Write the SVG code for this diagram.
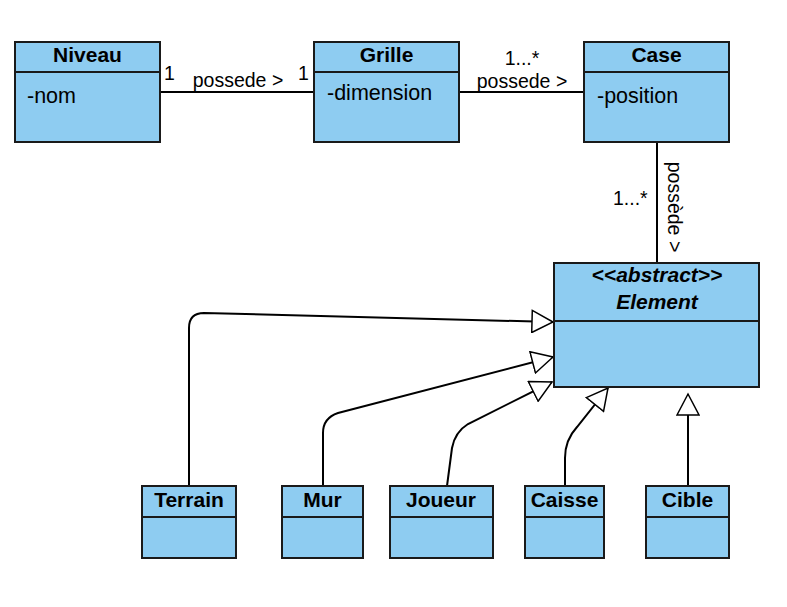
<svg xmlns="http://www.w3.org/2000/svg" width="787" height="607" viewBox="0 0 787 607">
<style>
.box{fill:#8ECCF1;stroke:#1a1a1a;stroke-width:2}
.div{stroke:#1a1a1a;stroke-width:2}
.title{font-family:"Liberation Sans",Arial,sans-serif;font-size:21px;font-weight:bold;text-anchor:middle;fill:#000}
.attr{font-family:"Liberation Sans",Arial,sans-serif;font-size:21.5px;fill:#000}
.lbl{font-family:"Liberation Sans",Arial,sans-serif;font-size:19.5px;fill:#000}
.edge{fill:none;stroke:#000;stroke-width:2}
</style>
<defs>
<marker id="gen" viewBox="0 0 24 24" markerWidth="24" markerHeight="24" refX="22" refY="12" orient="auto" markerUnits="userSpaceOnUse">
<path d="M1,1 L22,12 L1,23 Z" fill="#fff" stroke="#000" stroke-width="1.5"/>
</marker>
</defs>
<rect width="787" height="607" fill="#fff"/>
<g id="connectors">
<line class="edge" x1="160" y1="92" x2="314" y2="92"/>
<line class="edge" x1="459" y1="92" x2="584" y2="92"/>
<line class="edge" x1="657" y1="142" x2="657" y2="263"/>
<path class="edge" d="M189,486 L189,328 Q189,313 204,313 L553,322" marker-end="url(#gen)"/>
<path class="edge" d="M323,486 L323,433 Q323,418 338,413 L553,357" marker-end="url(#gen)"/>
<path class="edge" d="M447,486 L452,448 Q455,432 468,424 L552,382" marker-end="url(#gen)"/>
<path class="edge" d="M565,486 L565,458 Q565,440 577,427 L608,388" marker-end="url(#gen)"/>
<path class="edge" d="M688,486 L688,394" marker-end="url(#gen)"/>
<text class="lbl" x="164" y="80">1</text>
<text class="lbl" x="238" y="87" text-anchor="middle">possede &gt;</text>
<text class="lbl" x="298" y="80">1</text>
<text class="lbl" x="522" y="65" text-anchor="middle">1...*</text>
<text class="lbl" x="522" y="88" text-anchor="middle">possede &gt;</text>
<text class="lbl" x="613" y="205">1...*</text>
<text class="lbl" transform="translate(668,207) rotate(90)" text-anchor="middle">possède &gt;</text>
</g>
<g id="niveau">
<rect class="box" x="15" y="42" width="145" height="100"/>
<line class="div" x1="15" y1="72" x2="160" y2="72"/>
<text class="title" x="87.5" y="62">Niveau</text>
<text class="attr" x="27" y="103">-nom</text>
</g>
<g id="grille">
<rect class="box" x="314" y="42" width="145" height="100"/>
<line class="div" x1="314" y1="72" x2="459" y2="72"/>
<text class="title" x="386.5" y="62">Grille</text>
<text class="attr" x="327" y="100">-dimension</text>
</g>
<g id="case">
<rect class="box" x="584" y="42" width="145" height="100"/>
<line class="div" x1="584" y1="72" x2="729" y2="72"/>
<text class="title" x="656.5" y="62">Case</text>
<text class="attr" x="597" y="103">-position</text>
</g>
<g id="element">
<rect class="box" x="554" y="263" width="205" height="124"/>
<line class="div" x1="554" y1="321" x2="759" y2="321"/>
<text class="title" x="657" y="282" font-style="italic">&lt;&lt;abstract&gt;&gt;</text>
<text class="title" x="657" y="309" font-style="italic">Element</text>
</g>
<g id="terrain">
<rect class="box" x="142" y="486" width="94" height="72"/>
<line class="div" x1="142" y1="517" x2="236" y2="517"/>
<text class="title" x="189" y="507">Terrain</text>
</g>
<g id="mur">
<rect class="box" x="282" y="486" width="81" height="72"/>
<line class="div" x1="282" y1="517" x2="363" y2="517"/>
<text class="title" x="322.5" y="507">Mur</text>
</g>
<g id="joueur">
<rect class="box" x="390" y="486" width="103" height="72"/>
<line class="div" x1="390" y1="517" x2="493" y2="517"/>
<text class="title" x="441" y="507">Joueur</text>
</g>
<g id="caisse">
<rect class="box" x="525" y="486" width="79" height="72"/>
<line class="div" x1="525" y1="517" x2="604" y2="517"/>
<text class="title" x="564.5" y="507">Caisse</text>
</g>
<g id="cible">
<rect class="box" x="646" y="486" width="83" height="72"/>
<line class="div" x1="646" y1="517" x2="729" y2="517"/>
<text class="title" x="687.5" y="507">Cible</text>
</g>
</svg>
